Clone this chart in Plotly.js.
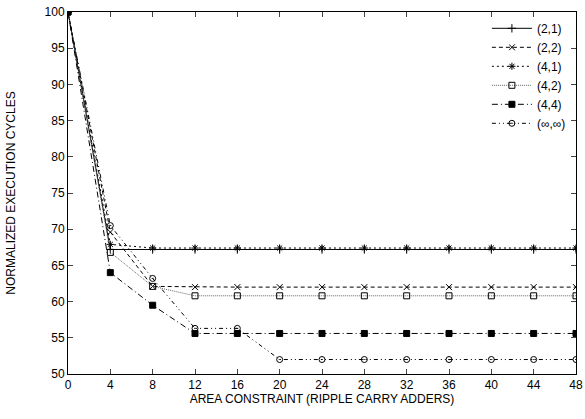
<!DOCTYPE html>
<html><head><meta charset="utf-8">
<script src="https://cdn.plot.ly/plotly-3.0.1.min.js"></script>
<style>html,body{margin:0;padding:0;background:#fff}#chart{width:585px;height:419px}</style>
</head><body><div id="chart"></div>
<script>
const xs = [0,4,8,12,16,20,24,28,32,36,40,44,48];
const seriesNames = ["(2,1)","(2,2)","(4,1)","(4,2)","(4,4)","(\u221e,\u221e)"];
const s21 = [100,67.2,67.2,67.2,67.2,67.2,67.2,67.2,67.2,67.2,67.2,67.2,67.2];
const s22 = [100,69.6,62.1,62.0,62.0,62.0,62.0,62.0,62.0,62.0,62.0,62.0,62.0];
const s41 = [100,67.9,67.4,67.4,67.4,67.4,67.4,67.4,67.4,67.4,67.4,67.4,67.4];
const s42 = [100,66.8,62.1,60.8,60.8,60.8,60.8,60.8,60.8,60.8,60.8,60.8,60.8];
const s44 = [100,64.0,59.5,55.6,55.6,55.6,55.6,55.6,55.6,55.6,55.6,55.6,55.6];
const sInf = [100,70.5,63.2,56.3,56.3,52.0,52.0,52.0,52.0,52.0,52.0,52.0,52.0];
const xTicks = [0,4,8,12,16,20,24,28,32,36,40,44,48];
const yTicks = [50,55,60,65,70,75,80,85,90,95,100];

const styles = [
  {dash:"solid", color:"#000", sym:"cross-thin-open"},
  {dash:"4px,3px", color:"#000", sym:"x-thin-open"},
  {dash:"2px,3px", color:"#000", sym:"asterisk-open"},
  {dash:"1px,1px", color:"#666", sym:"square-open"},
  {dash:"6px,3px,1px,3px", color:"#000", sym:"square"},
  {dash:"4px,3px,1px,3px,1px,3px", color:"#000", sym:"circle-open-dot"}
];
const data = [s21,s22,s41,s42,s44,sInf].map((ys,i)=>({
  x: xs, y: ys, name: seriesNames[i], type:"scatter", mode:"lines+markers",
  line:{dash:styles[i].dash, color:styles[i].color, width:1},
  marker:{symbol:styles[i].sym, size:6, color:"#000", line:{color:"#000", width:1}}
}));
const layout = {
  width:585, height:419,
  margin:{l:68, r:9, t:12, b:45},
  paper_bgcolor:"#fff", plot_bgcolor:"#fff",
  font:{family:"Liberation Sans, Arial, sans-serif", size:12, color:"#000"},
  showlegend:true,
  legend:{x:0.99, y:0.995, xanchor:"right", yanchor:"top", bgcolor:"rgba(0,0,0,0)",
    font:{size:12}, tracegroupgap:0, itemwidth:40},
  xaxis:{range:[0,48], tickvals:xTicks, ticktext:xTicks.map(String), ticks:"inside", ticklen:5,
    showline:true, mirror:"ticks", linecolor:"#000", linewidth:1, showgrid:false, zeroline:false,
    title:{text:"AREA CONSTRAINT (RIPPLE CARRY ADDERS)", font:{size:12}, standoff:2}},
  yaxis:{range:[50,100], tickvals:yTicks, ticktext:yTicks.map(String), ticks:"inside", ticklen:5,
    showline:true, mirror:"ticks", linecolor:"#000", linewidth:1, showgrid:false, zeroline:false,
    title:{text:"NORMALIZED EXECUTION CYCLES", font:{size:12}, standoff:26}}
};
Plotly.newPlot("chart", data, layout, {displayModeBar:false});
</script></body></html>
